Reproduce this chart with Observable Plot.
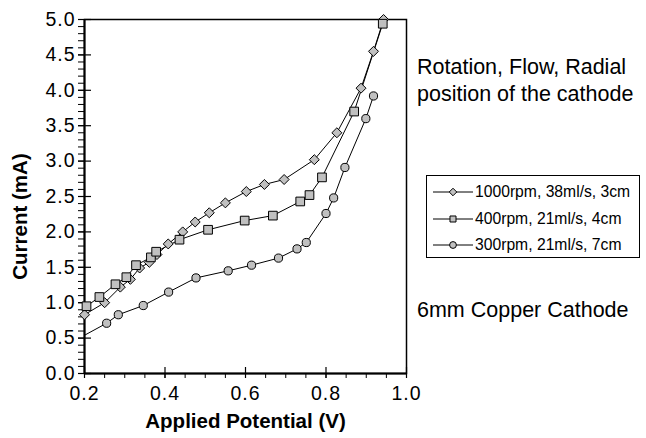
<!DOCTYPE html>
<html><head><meta charset="utf-8">
<script src="https://cdn.jsdelivr.net/npm/d3@7"></script>
<script src="https://cdn.jsdelivr.net/npm/@observablehq/plot@0.6"></script>
<style>
body{margin:0;background:#fff;font-family:"Liberation Sans",Arial,sans-serif;}
#wrap{position:relative;width:646px;height:438px;}
.note{position:absolute;left:417px;font-size:21.5px;line-height:27px;color:#000;white-space:nowrap;}
#legend{position:absolute;left:426px;top:175px;width:214px;height:83px;border:1px solid #000;box-sizing:border-box;background:#fff;}
.row{position:absolute;left:0;height:26px;display:flex;align-items:center;font-size:15.7px;white-space:nowrap;}
.row svg{display:block;}
#wrap svg g[aria-label="x-axis tick label"] text,
#wrap svg g[aria-label="y-axis tick label"] text{font-size:19.5px;letter-spacing:1px;}
</style></head><body><div id="wrap"></div>
<script>
// ---- data ----
const seriesNames = ["1000rpm, 38ml/s, 3cm", "400rpm, 21ml/s, 4cm", "300rpm, 21ml/s, 7cm"];
const seriesSymbols = ["diamond2", "square", "circle"];

const v1000 = [0.200, 0.250, 0.289, 0.314, 0.337, 0.361, 0.380, 0.408, 0.444, 0.475, 0.510, 0.550, 0.602, 0.647, 0.696, 0.771, 0.827, 0.887, 0.918, 0.943];
const i1000 = [0.83, 1.00, 1.22, 1.33, 1.49, 1.57, 1.68, 1.83, 2.00, 2.14, 2.27, 2.41, 2.57, 2.67, 2.74, 3.02, 3.40, 4.03, 4.55, 5.00];

const v400 = [0.205, 0.237, 0.277, 0.304, 0.328, 0.365, 0.378, 0.436, 0.507, 0.598, 0.668, 0.736, 0.759, 0.790, 0.870, 0.941];
const i400 = [0.95, 1.08, 1.26, 1.36, 1.53, 1.64, 1.72, 1.89, 2.03, 2.16, 2.23, 2.43, 2.52, 2.77, 3.70, 4.94];

// first entry of the 300rpm series sits on the axis edge (line only, no marker shown)
const v300 = [0.200, 0.255, 0.284, 0.346, 0.409, 0.477, 0.557, 0.615, 0.682, 0.728, 0.751, 0.800, 0.819, 0.847, 0.899, 0.918];
const i300 = [0.54, 0.71, 0.83, 0.96, 1.15, 1.35, 1.45, 1.53, 1.63, 1.76, 1.85, 2.26, 2.48, 2.91, 3.60, 3.92];
const markerHidden300 = [true];

const xTicks = [0.2, 0.4, 0.6, 0.8, 1.0];
const xLabels = ["0.2", "0.4", "0.6", "0.8", "1.0"];
const xMinor = [0.2, 0.25, 0.3, 0.35, 0.4, 0.45, 0.5, 0.55, 0.6, 0.65, 0.7, 0.75, 0.8, 0.85, 0.9, 0.95, 1.0];
const yTicks = [0, 0.5, 1, 1.5, 2, 2.5, 3, 3.5, 4, 4.5, 5];
const yLabels = ["0.0", "0.5", "1.0", "1.5", "2.0", "2.5", "3.0", "3.5", "4.0", "4.5", "5.0"];
const yMinor = [0,0.1,0.2,0.3,0.4,0.5,0.6,0.7,0.8,0.9,1,1.1,1.2,1.3,1.4,1.5,1.6,1.7,1.8,1.9,2,2.1,2.2,2.3,2.4,2.5,2.6,2.7,2.8,2.9,3,3.1,3.2,3.3,3.4,3.5,3.6,3.7,3.8,3.9,4,4.1,4.2,4.3,4.4,4.5,4.6,4.7,4.8,4.9,5];

const xTitle = "Applied Potential (V)";
const yTitle = "Current (mA)";
const noteTop = ["Rotation, Flow, Radial", "position of the cathode"];
const noteBottom = "6mm Copper Cathode";

// ---- build table ----
const rows = [];
[[v1000, i1000], [v400, i400], [v300, i300]].forEach(([vs, is], s) => {
  vs.forEach((v, k) => rows.push({
    series: seriesNames[s], s, v, i: is[k],
    marker: !(s === 2 && markerHidden300[k])
  }));
});

const fillGray = "#c0c0c0";
const markR = [4.5, 4.9, 4.1];

const marks = [
  Plot.frame({stroke: "#000", strokeWidth: 1.5}),
  Plot.ruleX([0.2], {stroke: "#000", strokeWidth: 2}),
  Plot.ruleY([0], {stroke: "#000", strokeWidth: 2}),
  // minor ticks (outward)
  Plot.axisY(yMinor, {tickSize: 6, tickFormat: () => "", label: null, strokeWidth: 1}),
  Plot.axisX(xMinor, {tickSize: 5, tickFormat: () => "", label: null, strokeWidth: 1}),
  // major ticks crossing the axis
  Plot.axisY(yTicks, {tickSize: 13, dx: 7, tickFormat: () => "", label: null, strokeWidth: 1.2}),
  Plot.axisX(xTicks, {tickSize: 11, dy: -6, tickFormat: () => "", label: null, strokeWidth: 1.2}),
  // labels
  Plot.axisY(yTicks, {tickSize: 0, tickPadding: 9, tickFormat: d => yLabels[yTicks.indexOf(d)], label: null, fontSize: 19.5}),
  Plot.axisX(xTicks, {tickSize: 0, tickPadding: 13, tickFormat: d => xLabels[xTicks.indexOf(d)], label: null, fontSize: 19.5}),
  // series lines
  ...seriesNames.map((name, s) => Plot.line(rows.filter(r => r.s === s), {x: "v", y: "i", stroke: "#000", strokeWidth: 1})),
  // markers
  ...seriesNames.map((name, s) => Plot.dot(rows.filter(r => r.s === s && r.marker), {
    x: "v", y: "i", symbol: seriesSymbols[s], r: markR[s], fill: fillGray, stroke: "#000", strokeWidth: 1
  })),
  // titles
  Plot.text([xTitle], {frameAnchor: "bottom", dy: 48, lineAnchor: "middle", textAnchor: "middle", fontWeight: "bold", fontSize: 20.5}),
  Plot.text([yTitle], {frameAnchor: "left", dx: -64, dy: 20, rotate: -90, lineAnchor: "middle", textAnchor: "middle", fontWeight: "bold", fontSize: 20.5})
];

const chart = Plot.plot({
  width: 646, height: 438,
  marginLeft: 84, marginRight: 240, marginTop: 19, marginBottom: 65,
  x: {domain: [0.2, 1.0]},
  y: {domain: [0, 5]},
  style: {fontFamily: "Liberation Sans, Arial, sans-serif", fontSize: "19px", color: "#000", background: "#fff"},
  marks
});
const wrap = document.getElementById("wrap");
wrap.appendChild(chart);

// annotations
const n1 = document.createElement("div");
n1.className = "note"; n1.style.top = "54px";
n1.innerHTML = noteTop.join("<br>");
wrap.appendChild(n1);
const n2 = document.createElement("div");
n2.className = "note"; n2.style.top = "297px";
n2.textContent = noteBottom;
wrap.appendChild(n2);

// legend
const lg = document.createElement("div");
lg.id = "legend";
wrap.appendChild(lg);
seriesNames.forEach((name, s) => {
  const row = document.createElement("div");
  row.className = "row";
  row.style.top = (3 + s * 26.5) + "px";
  const svg = d3.create("svg").attr("width", 48).attr("height", 26);
  svg.append("line").attr("x1", 6).attr("x2", 46).attr("y1", 13).attr("y2", 13).attr("stroke", "#000");
  const sym = [d3.symbolDiamond2, d3.symbolSquare, d3.symbolCircle][s];
  svg.append("path").attr("transform", "translate(26,13)")
    .attr("d", d3.symbol(sym, Math.PI * 3.4 * 3.4)())
    .attr("fill", fillGray).attr("stroke", "#000");
  row.appendChild(svg.node());
  const t = document.createElement("span");
  t.textContent = name;
  row.appendChild(t);
  lg.appendChild(row);
});
</script>
</body></html>
